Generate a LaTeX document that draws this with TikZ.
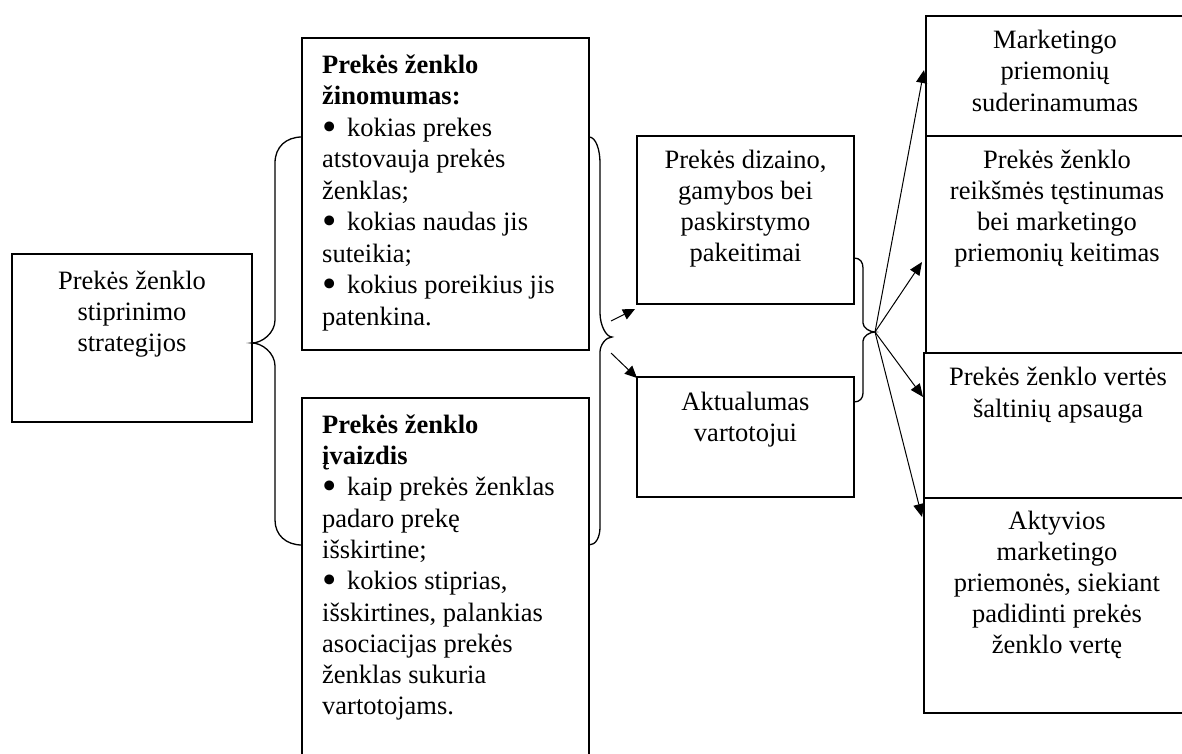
\documentclass[tikz,border=0pt]{standalone}
\usepackage{fontspec}
\setmainfont{Liberation Serif}
\usetikzlibrary{arrows.meta,calc}
\newcommand{\mystrut}{\rule{0pt}{22pt}}
\newcommand{\bul}{\raisebox{-4pt}{\scalebox{1.55}{•}}\hspace{10.5pt}}
\begin{document}
\begin{tikzpicture}[x=1pt,y=-1pt,
  box/.style={draw, line width=1.5pt, inner sep=0pt, outer sep=0pt},
  txt/.style={inner sep=0pt, font=\fontsize{26.5}{31.3}\selectfont},
  brace/.style={line width=1.3pt},
  arr/.style={line width=1pt, -{Triangle[length=13pt,width=11pt]}}]
\useasboundingbox (0,0) rectangle (1182,754);
% boxes
\node[box, minimum width=240pt, minimum height=168pt] (A) at (132,338) {};
\node[box, minimum width=287pt, minimum height=312pt] (B) at (445.5,194) {};
\node[box, minimum width=287pt, minimum height=392pt] (C) at (445.5,594) {};
\node[box, minimum width=217pt, minimum height=168pt] (D) at (745.5,220) {};
\node[box, minimum width=217pt, minimum height=120pt] (E) at (745.5,437) {};
\node[box, minimum width=274pt, minimum height=120pt] (F) at (1063,76) {};
\node[box, minimum width=274pt, minimum height=217pt] (G) at (1063,244.5) {};
\node[box, minimum width=276pt, minimum height=145pt] (H) at (1062,425.5) {};
\node[box, minimum width=276pt, minimum height=215pt] (I) at (1062,605.5) {};
\draw[line width=2.8pt] (H.north west) -- (H.north east);
% texts
\node[txt, anchor=north, align=center] (At) at (132,267)
  {\mystrut Prekės ženklo\\stiprinimo\\strategijos};
\node[txt, anchor=north west, align=left, font=\fontsize{26.5}{31.5}\selectfont] (Bt) at (322,51)
  {\mystrut\textbf{Prekės ženklo}\\\textbf{žinomumas:}\\\bul kokias prekes\\atstovauja prekės\\ženklas;\\\bul kokias naudas jis\\suteikia;\\\bul kokius poreikius jis\\patenkina.};
\node[txt, anchor=north west, align=left] (Ct) at (322,411)
  {\mystrut\textbf{Prekės ženklo}\\\textbf{įvaizdis}\\\bul kaip prekės ženklas\\padaro prekę\\išskirtine;\\\bul kokios stiprias,\\išskirtines, palankias\\asociacijas prekės\\ženklas sukuria\\vartotojams.};
\node[txt, anchor=north, align=center, font=\fontsize{26.5}{31}\selectfont] (Dt) at (745.5,146)
  {\mystrut Prekės dizaino,\\gamybos bei\\paskirstymo\\pakeitimai};
\node[txt, anchor=north, align=center, font=\fontsize{26.5}{31}\selectfont] (Et) at (745.5,388)
  {\mystrut Aktualumas\\vartotojui};
\node[txt, anchor=north, align=center, font=\fontsize{26.5}{31.5}\selectfont] (Ft) at (1055,26)
  {\mystrut Marketingo\\priemonių\\suderinamumas};
\node[txt, anchor=north, align=center, font=\fontsize{26.5}{31}\selectfont] (Gt) at (1057,146)
  {\mystrut Prekės ženklo\\reikšmės tęstinumas\\bei marketingo\\priemonių keitimas};
\node[txt, anchor=north, align=center, font=\fontsize{26.5}{32}\selectfont] (Ht) at (1058,363)
  {\mystrut Prekės ženklo vertės\\šaltinių apsauga};
\node[txt, anchor=north, align=center, font=\fontsize{26.5}{31}\selectfont] (It) at (1057,507)
  {\mystrut Aktyvios\\marketingo\\priemonės, siekiant\\padidinti prekės\\ženklo vertę};
% brace tips and arrow ends
\coordinate (tL) at (252,343);
\coordinate (tM) at (612,337);
\coordinate (tR) at (875,332);
\coordinate (sM1) at (611,321);
\coordinate (sM2) at (611,353);
\coordinate (eD) at (635,309);
\coordinate (eE) at (637,378);
\coordinate (eF) at (924,70);
\coordinate (eG) at (922,262);
\coordinate (eH) at (923,397);
\coordinate (eI) at (922,517);
% braces
\draw[brace] (302,137) .. controls (286,137) and (275,147) .. (275,163) -- (275,320)
  .. controls (275,333) and (262,343) .. (tL)
  .. controls (262,343) and (275,353) .. (275,366) -- (275,520)
  .. controls (275,535) and (286,545) .. (302,545);
\draw[brace] (589,137) .. controls (596,137) and (600,150) .. (600,163) -- (600,313)
  .. controls (600,325) and (606,337) .. (tM)
  .. controls (606,337) and (600,345) .. (600,352) -- (600,527)
  .. controls (600,537) and (596,545) .. (589,545);
\draw[brace] (854,258) .. controls (860,258) and (863,262) .. (863,268) -- (863,323)
  .. controls (863,328) and (870,332) .. (tR)
  .. controls (870,332) and (863,336) .. (863,341) -- (863,393)
  .. controls (863,398) and (860,402) .. (854,402);
% arrows
\draw[arr, -{Triangle[length=12pt,width=11pt]}] (sM1) -- (eD);
\draw[arr, -{Triangle[length=12pt,width=11pt]}] (sM2) -- (eE);
\draw[arr] (tR) -- (eF);
\draw[arr] (tR) -- (eG);
\draw[arr] (tR) -- (eH);
\draw[arr] (tR) -- (eI);
\end{tikzpicture}
\end{document}
